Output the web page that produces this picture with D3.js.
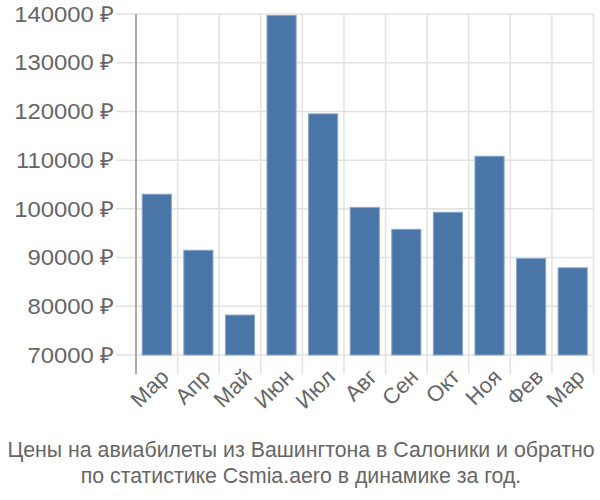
<!DOCTYPE html>
<html>
<head>
<meta charset="utf-8">
<script src="https://cdn.jsdelivr.net/npm/d3@7"></script>
<style>
  body { margin: 0; background: #fff; }
  svg { display: block; font-family: "Liberation Sans", Arial, sans-serif; }
</style>
</head>
<body>
<div id="chart"></div>
<script>
// данные графика
const months = ["Мар", "Апр", "Май", "Июн", "Июл", "Авг", "Сен", "Окт", "Ноя", "Фев", "Мар"];
const prices = [103000, 91500, 78200, 139700, 119500, 100300, 95800, 99300, 110800, 89800, 87900];
const yTicks = [70000, 80000, 90000, 100000, 110000, 120000, 130000, 140000];
const titleLines = [
    "Цены на авиабилеты из Вашингтона в Салоники и обратно",
    "по статистике Csmia.aero в динамике за год."
];

const width = 600, height = 500;
const margin = { top: 14, right: 6.5, bottom: 145, left: 136 };

const svg = d3.select("#chart")
    .append("svg")
    .attr("width", width)
    .attr("height", height);

// шкалы
const x = d3.scaleBand()
    .domain(d3.range(months.length))
    .range([margin.left, width - margin.right])
    .paddingInner(0.3)
    .paddingOuter(0.15);

const y = d3.scaleLinear()
    .domain([70000, 140000])
    .range([height - margin.bottom, margin.top]);

const step = x.step();
const gridColor = "#e2e2e2";

// горизонтальная сетка
svg.append("g")
    .selectAll("line")
    .data(yTicks)
    .enter()
    .append("line")
    .attr("x1", margin.left - 20)
    .attr("x2", width - margin.right)
    .attr("y1", d => y(d))
    .attr("y2", d => y(d))
    .attr("stroke", gridColor)
    .attr("stroke-width", 1.5);

// вертикальная сетка (границы категорий)
const bounds = d3.range(months.length + 1).map(i => margin.left + i * step);
svg.append("g")
    .selectAll("line")
    .data(bounds.slice(1))
    .enter()
    .append("line")
    .attr("x1", d => d)
    .attr("x2", d => d)
    .attr("y1", margin.top)
    .attr("y2", y(70000) + 19)
    .attr("stroke", gridColor)
    .attr("stroke-width", 1.5);

// подписи оси Y (шрифт немного растянут по горизонтали, как в оригинале)
svg.append("g")
    .selectAll("text")
    .data(yTicks)
    .enter()
    .append("text")
    .attr("transform", d => `translate(${margin.left - 22}, ${y(d)}) scale(1.085, 1)`)
    .attr("text-anchor", "end")
    .attr("dominant-baseline", "central")
    .attr("font-size", "22px")
    .attr("fill", "#666")
    .text(d => d + " ₽");

// столбцы
svg.append("g")
    .selectAll("rect")
    .data(prices)
    .enter()
    .append("rect")
    .attr("x", (d, i) => x(i))
    .attr("y", d => y(d))
    .attr("width", x.bandwidth())
    .attr("height", d => y(70000) - y(d))
    .attr("fill", "#4a76a7")
    .attr("stroke", "#86a6cb")
    .attr("stroke-width", 1);

// ось Y
svg.append("line")
    .attr("x1", margin.left)
    .attr("x2", margin.left)
    .attr("y1", margin.top)
    .attr("y2", y(70000) + 19)
    .attr("stroke", "#aaa")
    .attr("stroke-width", 2);

// подписи оси X
svg.append("g")
    .selectAll("text")
    .data(months)
    .enter()
    .append("text")
    .attr("transform", (d, i) => `translate(${x(i) + x.bandwidth() / 2 + 8}, ${y(70000) + 18}) rotate(-45)`)
    .attr("text-anchor", "end")
    .attr("dominant-baseline", "central")
    .attr("font-size", "22px")
    .attr("fill", "#666")
    .text(d => d);

// заголовок
svg.append("g")
    .selectAll("text")
    .data(titleLines)
    .enter()
    .append("text")
    .attr("x", 301)
    .attr("y", (d, i) => 456.5 + i * 26.5)
    .attr("text-anchor", "middle")
    .attr("font-size", "21.3px")
    .attr("fill", "#666")
    .text(d => d);
</script>
</body>
</html>
